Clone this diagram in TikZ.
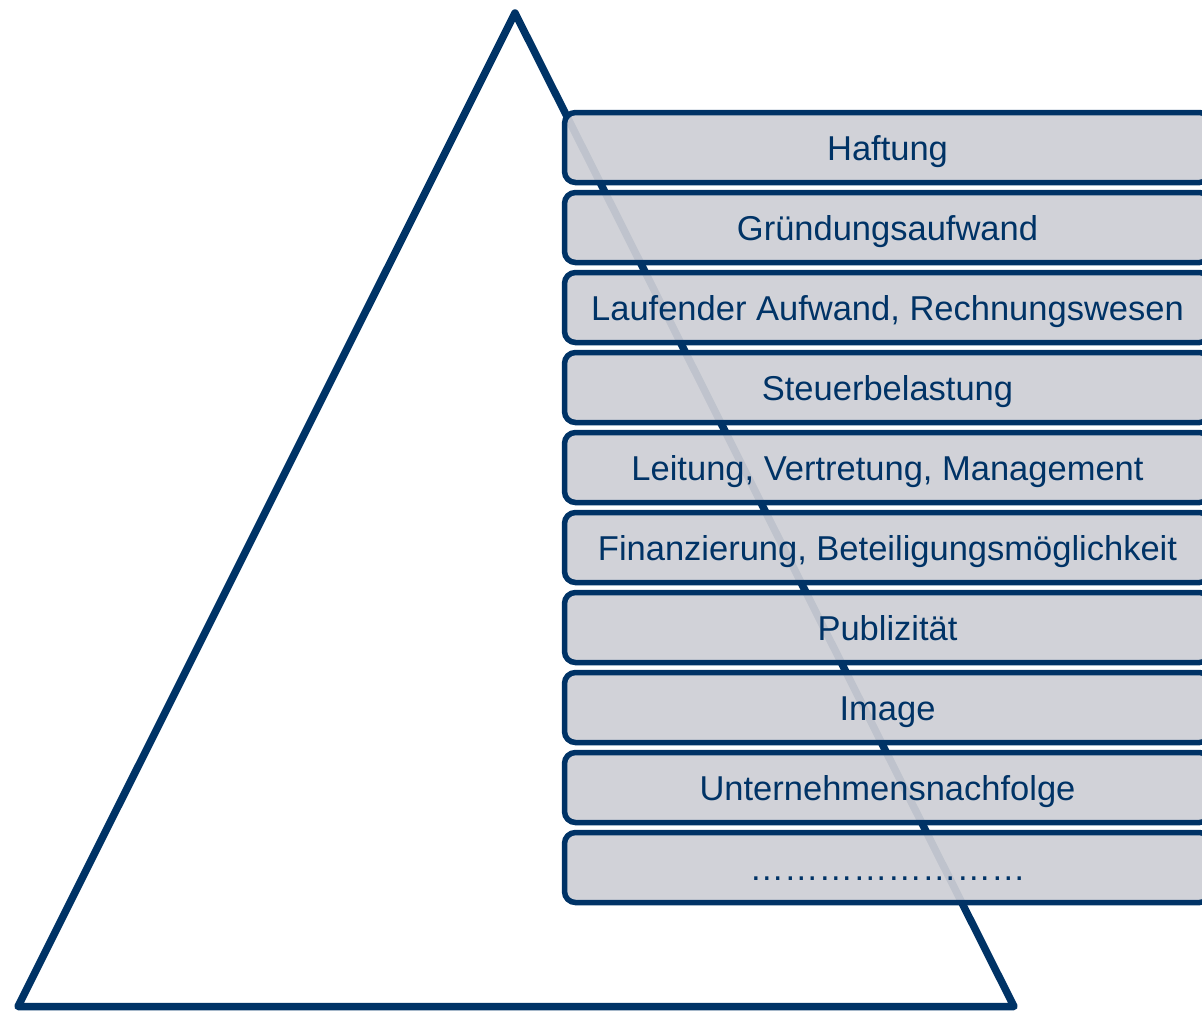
\documentclass[tikz,border=0pt]{standalone}
\usepackage{fontspec}
\setmainfont{Liberation Sans}
\begin{document}
\begin{tikzpicture}[x=1pt,y=-1pt,
  navy/.style={draw={rgb,255:red,0;green,51;blue,102}},
  bar/.style={navy, line width=5.5pt, rounded corners=11pt,
    fill={rgb,255:red,206;green,207;blue,213}, fill opacity=0.93, text opacity=1,
    minimum width=646pt, minimum height=70pt, inner sep=0pt, outer sep=0pt, anchor=north west,
    text height=26pt, text depth=0pt,
    text={rgb,255:red,0;green,51;blue,102}, font=\fontsize{34.5}{40}\selectfont}]
\useasboundingbox (0,0) rectangle (1202,1012);
\coordinate (apex) at (515,13);
\coordinate (bl) at (18,1006.5);
\coordinate (br) at (1014,1006.5);
\draw[navy, line width=7.5pt, line join=round] (apex) -- (br) -- (bl) -- cycle;
\begin{scope}
\clip (0,0) rectangle (1202,1012);
\foreach \t [count=\i from 0] in {Haftung,Gründungsaufwand,{Laufender Aufwand, Rechnungswesen},Steuerbelastung,{Leitung, Vertretung, Management},{Finanzierung, Beteiligungsmöglichkeit},Publizität,Image,Unternehmensnachfolge,{…\kern0pt…\kern0pt…\kern0pt…\kern0pt…\kern0pt…\kern0pt…\kern0pt…}}
  \node[bar] (b\i) at (564.5,{112.5+80*\i}) {\t};
\end{scope}
\end{tikzpicture}
\end{document}
